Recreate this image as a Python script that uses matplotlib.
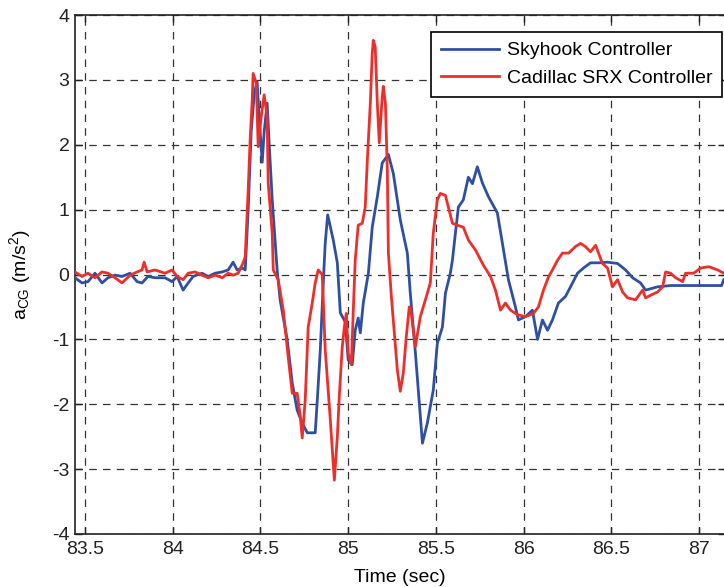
import matplotlib
matplotlib.use("Agg")
import matplotlib.pyplot as plt

plt.rcParams['font.family'] = ['Liberation Sans', 'DejaVu Sans']
plt.rcParams['mathtext.fontset'] = 'custom'
plt.rcParams['mathtext.rm'] = 'Liberation Sans'
plt.rcParams['mathtext.it'] = 'Liberation Sans'
plt.rcParams['axes.unicode_minus'] = False

sky_t = [83.443, 83.483, 83.517, 83.557, 83.597, 83.631, 83.671, 83.711, 83.757, 83.797,
         83.825, 83.859, 83.899, 83.956, 83.996, 84.025, 84.059, 84.088, 84.116, 84.167,
         84.202, 84.242, 84.282, 84.316, 84.344, 84.367, 84.396, 84.413, 84.430, 84.447,
         84.465, 84.481, 84.493, 84.510, 84.521, 84.538, 84.550, 84.567, 84.595, 84.612,
         84.652, 84.681, 84.709, 84.738, 84.767, 84.812, 84.824, 84.841, 84.858, 84.869,
         84.883, 84.915, 84.938, 84.955, 84.983, 85.000, 85.023, 85.040, 85.057, 85.069,
         85.086, 85.115, 85.137, 85.166, 85.194, 85.229, 85.257, 85.297, 85.337, 85.354,
         85.383, 85.400, 85.423, 85.451, 85.485, 85.508, 85.537, 85.554, 85.582, 85.594,
         85.611, 85.628, 85.656, 85.685, 85.708, 85.736, 85.765, 85.799, 85.850, 85.885,
         85.913, 85.953, 85.970, 86.010, 86.050, 86.079, 86.107, 86.136, 86.164, 86.198,
         86.238, 86.267, 86.307, 86.341, 86.381, 86.427, 86.478, 86.535, 86.581, 86.621,
         86.666, 86.695, 86.723, 86.763, 86.837, 86.912, 87.100, 87.128, 87.140]
sky_a = [-0.05, -0.13, -0.11, 0.02, -0.13, -0.05, -0.01, -0.03, 0.02, -0.11,
         -0.13, -0.03, -0.05, -0.05, -0.11, -0.03, -0.24, -0.13, -0.03, 0.02,
         -0.03, 0.02, 0.04, 0.07, 0.19, 0.07, 0.10, 0.07, 1.0, 2.2,
         2.8, 2.97, 2.4, 1.73, 2.2, 2.64, 2.0, 1.15, 0.07, -0.39,
         -1.0, -1.67, -2.09, -2.29, -2.44, -2.44, -1.93, -1.16, -0.13, 0.48,
         0.92, 0.53, 0.18, -0.59, -0.73, -1.32, -1.39, -0.86, -0.67, -0.90,
         -0.44, 0.02, 0.73, 1.20, 1.72, 1.85, 1.56, 0.84, 0.33, -0.29,
         -1.21, -1.8, -2.6, -2.29, -1.78, -1.06, -0.81, -0.29, 0.02, 0.22,
         0.64, 1.04, 1.15, 1.50, 1.40, 1.66, 1.41, 1.20, 0.95, 0.38,
         -0.08, -0.5, -0.70, -0.65, -0.55, -1.0, -0.70, -0.86, -0.70, -0.44,
         -0.34, -0.19, 0.02, 0.10, 0.18, 0.18, 0.19, 0.17, 0.07, -0.05,
         -0.13, -0.24, -0.22, -0.19, -0.17, -0.17, -0.17, -0.17, -0.08]

srx_t = [83.443, 83.483, 83.517, 83.557, 83.597, 83.631, 83.671, 83.711, 83.757, 83.797,
         83.825, 83.837, 83.854, 83.899, 83.956, 83.996, 84.025, 84.059, 84.088, 84.128,
         84.167, 84.202, 84.242, 84.282, 84.316, 84.344, 84.373, 84.401, 84.413, 84.430,
         84.441, 84.453, 84.458, 84.476, 84.487, 84.504, 84.521, 84.538, 84.544, 84.567,
         84.573, 84.601, 84.630, 84.658, 84.681, 84.709, 84.727, 84.738, 84.755, 84.772,
         84.795, 84.812, 84.829, 84.852, 84.869, 84.898, 84.915, 84.921, 84.938, 84.949,
         84.966, 84.978, 84.989, 85.000, 85.018, 85.029, 85.040, 85.057, 85.080, 85.097,
         85.109, 85.126, 85.137, 85.143, 85.154, 85.166, 85.177, 85.194, 85.200, 85.212,
         85.223, 85.229, 85.246, 85.257, 85.280, 85.297, 85.314, 85.331, 85.348, 85.354,
         85.383, 85.411, 85.440, 85.468, 85.485, 85.508, 85.525, 85.554, 85.571, 85.594,
         85.622, 85.656, 85.685, 85.725, 85.771, 85.811, 85.839, 85.868, 85.896, 85.925,
         85.965, 86.010, 86.056, 86.084, 86.113, 86.141, 86.164, 86.193, 86.221, 86.256,
         86.295, 86.324, 86.352, 86.381, 86.410, 86.427, 86.449, 86.478, 86.506, 86.535,
         86.564, 86.592, 86.638, 86.678, 86.695, 86.723, 86.763, 86.792, 86.809, 86.837,
         86.866, 86.906, 86.923, 86.969, 87.009, 87.055, 87.106, 87.140]
srx_a = [0.04, -0.03, 0.02, -0.05, 0.04, 0.02, -0.05, -0.13, -0.01, 0.04,
         0.07, 0.19, 0.04, 0.07, 0.02, 0.07, -0.03, -0.08, 0.02, 0.04,
         -0.01, -0.05, -0.01, -0.05, 0.02, -0.01, 0.02, 0.18, 0.27, 1.3,
         2.07, 2.69, 3.10, 2.95, 1.97, 2.43, 2.77, 2.43, 1.41, 0.64,
         0.07, -0.08, -0.55, -1.27, -1.83, -1.83, -2.19, -2.52, -1.93, -0.81,
         -0.44, -0.13, 0.07, 0.0, -1.16, -2.24, -2.91, -3.17, -2.5, -1.89,
         -1.12, -0.81, -0.60, -1.21, -1.39, -0.55, 0.22, 0.76, 0.79, 1.04,
         1.76, 2.64, 3.41, 3.61, 3.51, 2.64, 2.03, 2.74, 2.90, 2.64,
         1.61, 0.33, -0.34, -0.70, -1.47, -1.80, -1.52, -0.96, -0.50, -0.50,
         -1.11, -0.65, -0.39, -0.13, 0.64, 1.15, 1.25, 1.22, 1.04, 0.79,
         0.76, 0.73, 0.53, 0.38, 0.14, -0.03, -0.24, -0.55, -0.44, -0.55,
         -0.62, -0.65, -0.60, -0.50, -0.24, -0.04, 0.07, 0.22, 0.33, 0.33,
         0.43, 0.48, 0.43, 0.35, 0.45, 0.33, 0.17, 0.10, -0.19, -0.08,
         -0.27, -0.36, -0.39, -0.24, -0.36, -0.32, -0.27, -0.19, 0.04, 0.02,
         -0.05, -0.11, 0.02, 0.02, 0.10, 0.12, 0.07, 0.02]

xticks = [83.5, 84, 84.5, 85, 85.5, 86, 86.5, 87]
xtick_labels = ['83.5', '84', '84.5', '85', '85.5', '86', '86.5', '87']
yticks = [-4, -3, -2, -1, 0, 1, 2, 3, 4]

fig = plt.figure(figsize=(7.24, 5.87), dpi=100)
ax = fig.add_axes([0.1036, 0.0903, 0.8984, 0.8841])

ax.plot(sky_t, sky_a, color='#2f4fa3', lw=2.0, label='Skyhook Controller', zorder=3)
ax.plot(srx_t, srx_a, color='#ec2f2b', lw=2.0, label='Cadillac SRX Controller', zorder=4)

ax.set_xlim(83.443, 87.15)
ax.set_ylim(-4, 4)
ax.set_xticks(xticks)
ax.set_xticklabels(xtick_labels)
ax.set_yticks(yticks)
ax.grid(True, color='#333333', linestyle=(0, (6, 5)), linewidth=0.9)
ax.tick_params(direction='in', length=5, width=1, labelsize=14, top=True, right=True, colors='#222222')
ax.tick_params(axis='x', pad=5)
ax.tick_params(axis='y', pad=4)
for s in ax.spines.values():
    s.set_linewidth(1.2)
    s.set_color('#222222')

ax.set_xlabel('Time (sec)', fontsize=14, labelpad=8)
ax.set_ylabel('a$_{\\mathrm{CG}}$ (m/s$^2$)', fontsize=14, labelpad=14)

leg = ax.legend(loc='upper right', bbox_to_anchor=(0.9954, 0.967), fontsize=14,
                frameon=True, fancybox=False, edgecolor='black', framealpha=1,
                handlelength=3.0, borderpad=0.5, labelspacing=0.5, handletextpad=0.4,
                borderaxespad=0.0)
leg.get_frame().set_linewidth(1.2)

fig.savefig('out.png', dpi=100)
